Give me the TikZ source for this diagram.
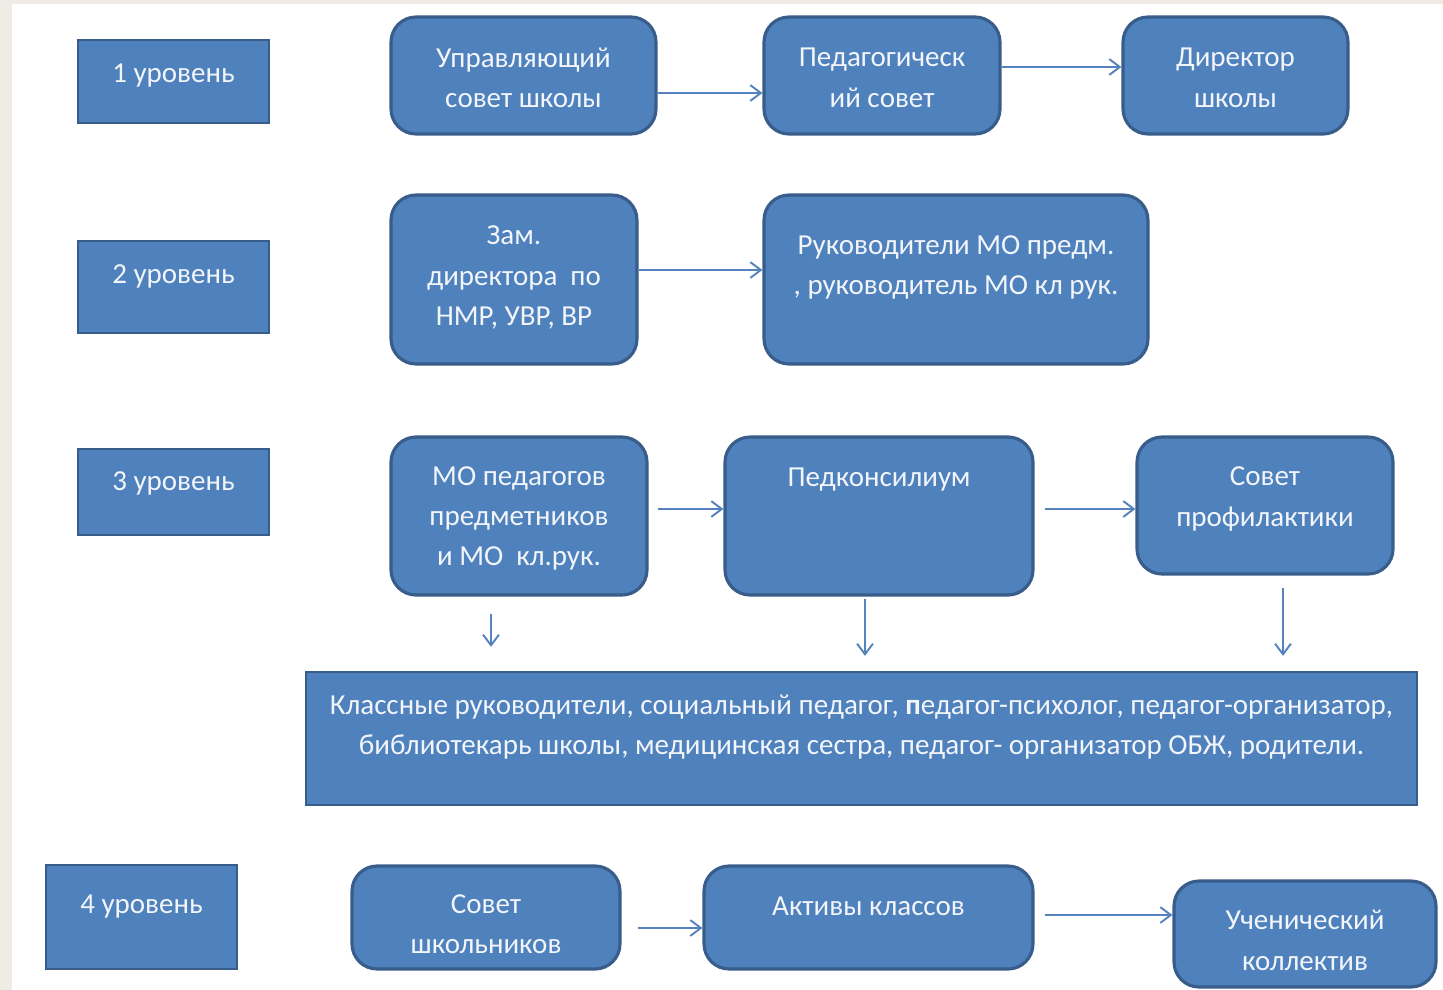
\documentclass[tikz,border=0pt]{standalone}
\usepackage{fontspec}
\setmainfont{Carlito}
\usetikzlibrary{arrows.meta,calc}
\definecolor{boxfill}{RGB}{79,129,189}
\definecolor{boxline}{RGB}{56,93,138}
\definecolor{arrcol}{RGB}{86,131,190}
\definecolor{paper}{RGB}{238,236,228}
\definecolor{txtcol}{RGB}{242,245,250}
\tikzset{
	lvlnode/.style={rectangle, draw=boxline, fill=boxfill, line width=1.3pt},
	rndnode/.style={rectangle, rounded corners=0.5cm, draw=boxline, fill=boxfill, line width=1.8pt},
	txt/.style={text=txtcol, align=center, font=\fontsize{16.5}{23}\selectfont},
	myarrow/.style={draw=arrcol, line width=1.1pt, -{Straight Barb[length=6pt,width=9pt]}}
}
\begin{document}
\begin{tikzpicture}[x=0.02cm, y=-0.02cm]
	\useasboundingbox (0,0) rectangle (1443,990);
	\fill[paper] (0,0) rectangle (1443,990);
	\fill[white] (12,4) rectangle (1443,990);
	% levels
	\node[lvlnode, minimum width=3.82cm, minimum height=1.66cm, label={[txt,yshift=0.12cm]center:1 уровень}] at (173.5,81.5) (lv1) {};
	\node[lvlnode, minimum width=3.82cm, minimum height=1.84cm, label={[txt,yshift=0.21cm]center:2 уровень}] at (173.5,287) (lv2) {};
	\node[lvlnode, minimum width=3.82cm, minimum height=1.72cm, label={[txt,yshift=0.17cm]center:3 уровень}] at (173.5,492) (lv3) {};
	\node[lvlnode, minimum width=3.82cm, minimum height=2.08cm, label={[txt,yshift=0.21cm]center:4 уровень}] at (141.5,917) (lv4) {};
	% row 1
	\node[rndnode, minimum width=5.3cm, minimum height=2.34cm, label={[txt,yshift=-0.05cm]center:Управляющий\\ совет школы}] at (523.5,75.5) (usch) {};
	\node[rndnode, minimum width=4.72cm, minimum height=2.34cm, label={[txt,yshift=-0.05cm]center:Педагогическ\\ ий совет}] at (882,75.5) (ped) {};
	\node[rndnode, minimum width=4.5cm, minimum height=2.34cm, label={[txt,yshift=-0.05cm]center:Директор\\ школы}] at (1235.5,75.5) (dir) {};
	% row 2
	\node[rndnode, minimum width=4.92cm, minimum height=3.38cm, label={[txt,yshift=0.04cm]center:{Зам.\\ директора~~по\\ НМР, УВР, ВР}}] at (514,279.5) (zam) {};
	\node[rndnode, minimum width=7.68cm, minimum height=3.38cm, label={[txt,yshift=0.24cm]center:{Руководители МО предм.\\ , руководитель МО кл рук.}}] at (956,279.5) (ruk) {};
	% row 3
	\node[rndnode, minimum width=5.12cm, minimum height=3.16cm, label={[txt,yshift=-0.05cm]center:МО педагогов\\ предметников\\ и МО~~кл.рук.}] at (519,516) (mop) {};
	\node[rndnode, minimum width=6.16cm, minimum height=3.16cm, label={[txt,yshift=0.73cm]center:Педконсилиум}] at (879,516) (pk) {};
	\node[rndnode, minimum width=5.12cm, minimum height=2.74cm, label={[txt,yshift=0.13cm]center:Совет\\ профилактики}] at (1265,505.5) (sp) {};
	\node[lvlnode, minimum width=22.22cm, minimum height=2.66cm, label={[txt,yshift=0.23cm]center:{Классные руководители, социальный педагог, \textbf{п}едагог-психолог, педагог-организатор,\\ библиотекарь школы, медицинская сестра, педагог- организатор ОБЖ, родители.}}] at (861.5,738.5) (kl) {};
	% row 4
	\node[rndnode, minimum width=5.36cm, minimum height=2.06cm, label={[txt,yshift=-0.13cm]center:Совет\\ школьников}] at (486,917.5) (sovsh) {};
	\node[rndnode, minimum width=6.58cm, minimum height=2.06cm, label={[txt,yshift=0.22cm]center:Активы классов}] at (868.5,917.5) (akt) {};
	\node[rndnode, minimum width=5.24cm, minimum height=2.12cm, label={[txt,yshift=-0.13cm]center:Ученический\\ коллектив}] at (1305,934) (uch) {};
	% arrows
	\draw[myarrow] ([yshift=-0.35cm]usch.east) -- ([yshift=-0.35cm]usch.east -| ped.west);
	\draw[myarrow] ([yshift=0.17cm]ped.east) -- ([yshift=0.17cm]ped.east -| dir.west);
	\draw[myarrow] ([yshift=0.19cm]zam.east) -- ([yshift=0.19cm]zam.east -| ruk.west);
	\draw[myarrow] ([xshift=0.18cm,yshift=0.14cm]mop.east) -- ([yshift=0.14cm]mop.east -| pk.west);
	\draw[myarrow] ([xshift=0.2cm,yshift=0.14cm]pk.east) -- ([yshift=0.14cm]pk.east -| sp.west);
	\coordinate (d1) at ([xshift=-0.56cm,yshift=-0.34cm]mop.south);
	\coordinate (d2) at ([xshift=-0.28cm,yshift=-0.04cm]pk.south);
	\coordinate (d3) at ([xshift=0.36cm,yshift=-0.24cm]sp.south);
	\draw[myarrow, shorten >=0.48cm] (d1) -- (d1 |- kl.north);
	\draw[myarrow, shorten >=0.3cm] (d2) -- (d2 |- kl.north);
	\draw[myarrow, shorten >=0.3cm] (d3) -- (d3 |- kl.north);
	\draw[myarrow] ([xshift=0.32cm,yshift=-0.21cm]sovsh.east) -- ([yshift=-0.21cm]sovsh.east -| akt.west);
	\draw[myarrow] ([xshift=0.2cm,yshift=0.05cm]akt.east) -- ([yshift=0.05cm]akt.east -| uch.west);
\end{tikzpicture}
\end{document}
